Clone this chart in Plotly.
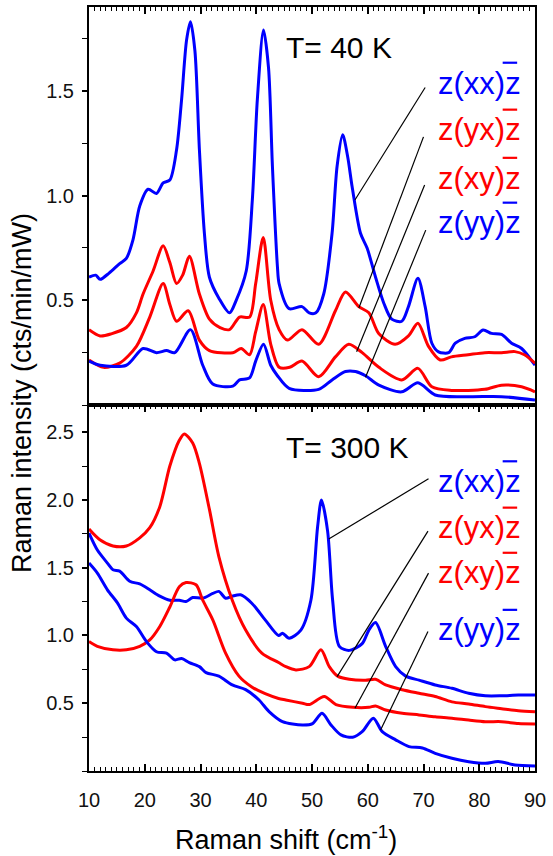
import plotly.graph_objects as go

# ---------------- data: T = 40 K (top panel) ----------------
x40_xx = [10, 11.2, 12, 13.6, 15.5, 16.7, 17.9, 19.1, 20.6, 22.1, 23.3, 24.5, 25.7, 26.6, 27.5, 28.2,
          29.0, 29.8, 30.7, 31.6, 33.3, 35.2, 36.4, 38.2, 39.3, 40.2, 41.3, 42.2, 42.9, 43.8, 44.1,
          45.9, 48.2, 49.5, 50.7, 52.1, 53.6, 54.5, 55.5, 56.4, 57.2, 58.7, 59.9, 61.4, 62.9, 64.3,
          66.1, 67.3, 69.0, 70.3, 71.5, 72.7, 74.5, 75.7, 77.4, 79.2, 80.7, 82.2, 84.0, 85.8, 87.6, 90]
y40_xx = [0.61, 0.62, 0.60, 0.63, 0.675, 0.70, 0.79, 0.95, 1.03, 1.01, 1.06, 1.074, 1.217, 1.456, 1.742, 1.83,
          1.69, 1.22, 0.82, 0.61, 0.51, 0.44, 0.50, 0.64, 0.98, 1.46, 1.79, 1.61, 1.14, 0.66, 0.58,
          0.46, 0.47, 0.44, 0.44, 0.53, 0.82, 1.14, 1.29, 1.185, 1.042, 0.82, 0.748, 0.61, 0.485, 0.41,
          0.40, 0.47, 0.605, 0.47, 0.295, 0.254, 0.25, 0.295, 0.318, 0.326, 0.358, 0.342, 0.337, 0.295, 0.27, 0.19]

x40_yx = [10, 12, 14, 16.7, 18.5, 19.7, 21.5, 23.3, 24.5, 25.7, 26.8, 28.0, 29.8, 31.6, 33.5, 35.2,
          37.0, 38.8, 39.9, 41.25, 42.6, 44.1, 45.6, 48.2, 51.2, 54.2, 56.0, 58.4, 60.2, 62.0,
          64.9, 67.3, 69.0, 70.9, 73.0, 75.0, 78.0, 81.0, 84.0, 86.4, 88.1, 90]
y40_yx = [0.36, 0.33, 0.34, 0.37, 0.44, 0.53, 0.64, 0.76, 0.68, 0.58, 0.62, 0.71, 0.53, 0.41, 0.37, 0.36,
          0.42, 0.42, 0.58, 0.80, 0.50, 0.36, 0.31, 0.36, 0.29, 0.45, 0.54, 0.47, 0.44, 0.34,
          0.29, 0.33, 0.39, 0.28, 0.215, 0.23, 0.24, 0.25, 0.25, 0.255, 0.24, 0.20]

x40_xy = [10, 12.6, 15.5, 18.5, 20.9, 23.3, 24.5, 25.7, 27.8, 29.8, 31.6, 35.8, 37.3, 38.8, 39.9,
          41.25, 42.6, 44.1, 46.0, 48.2, 51.2, 54.2, 56.6, 59.0, 62.0, 66.1, 69.0, 71.5, 75.0,
          81.0, 84.0, 87.6, 90]
y40_xy = [0.215, 0.18, 0.20, 0.28, 0.42, 0.58, 0.48, 0.40, 0.45, 0.31, 0.26, 0.25, 0.27, 0.24, 0.35,
          0.48, 0.29, 0.18, 0.18, 0.21, 0.135, 0.23, 0.29, 0.25, 0.18, 0.12, 0.175, 0.087, 0.07,
          0.075, 0.095, 0.087, 0.063]

x40_yy = [10, 12, 16.7, 19.7, 22.1, 23.9, 25.4, 28.2, 30.4, 32.2, 35.8, 37.0, 38.8, 39.9, 41.3,
          42.6, 43.8, 45.9, 51.2, 53.6, 56.0, 57.8, 59.6, 62.0, 66.1, 69.0, 72.1, 78.1, 84.0, 90]
y40_yy = [0.21, 0.19, 0.19, 0.27, 0.25, 0.26, 0.25, 0.36, 0.19, 0.10, 0.09, 0.12, 0.13, 0.21, 0.29,
          0.19, 0.14, 0.08, 0.075, 0.12, 0.16, 0.16, 0.14, 0.095, 0.063, 0.106, 0.048, 0.04, 0.04, 0.024]

# ---------------- data: T = 300 K (bottom panel) ----------------
x300_xx = [10, 11.5, 13.3, 14.3, 15.5, 17.3, 19.1, 20.9, 22.7, 24.5, 26.2, 27.4, 28.6, 30.4, 32.2,
           33.3, 34.5, 35.7, 37.2, 39.2, 41.6, 44.0, 44.7, 45.9, 48.0, 49.8, 51.0, 51.7, 52.8, 53.7,
           54.9, 56.7, 59.0, 60.2, 61.4, 63.2, 65.0, 66.8, 69.2, 72.1, 75.1, 78.1, 81.1, 84.0, 87.0, 90]
y300_xx = [1.755, 1.63, 1.534, 1.485, 1.475, 1.40, 1.38, 1.337, 1.29, 1.26, 1.26, 1.25, 1.28, 1.275, 1.31,
           1.325, 1.275, 1.29, 1.30, 1.238, 1.115, 1.0, 1.017, 0.98, 1.04, 1.26, 1.80, 2.0, 1.77, 1.26,
           0.92, 0.89, 0.94, 1.04, 1.095, 0.92, 0.77, 0.70, 0.67, 0.635, 0.61, 0.574, 0.555, 0.555, 0.56, 0.56]

x300_yx = [10, 11.95, 14.3, 16.7, 19.1, 20.9, 22.7, 24.5, 26.2, 27.1, 28.6, 29.8, 31.6, 33.3, 35.7,
           38.1, 41.0, 44.0, 45.3, 47.1, 49.5, 51.6, 53.1, 54.6, 56.7, 59.6, 61.4, 63.2, 66.2, 69.2,
           72.1, 75.1, 78.1, 81.1, 84.0, 87.0, 90]
y300_yx = [1.785, 1.706, 1.66, 1.66, 1.72, 1.795, 1.95, 2.25, 2.44, 2.487, 2.42, 2.27, 1.93, 1.58, 1.26,
           1.04, 0.87, 0.80, 0.77, 0.746, 0.77, 0.894, 0.77, 0.70, 0.677, 0.67, 0.677, 0.635, 0.60, 0.574,
           0.55, 0.51, 0.495, 0.475, 0.46, 0.445, 0.438]

x300_xy = [10, 11.5, 14.3, 16.7, 19.1, 20.9, 22.7, 24.5, 26.2, 27.4, 29.2, 30.4, 32.2, 34.5, 36.9,
           39.2, 41.6, 44.0, 45.3, 48.3, 49.5, 52.2, 54.3, 57.3, 60.2, 61.4, 63.2, 66.2, 69.2, 72.1,
           75.1, 78.1, 81.1, 84.0, 87.0, 90]
y300_xy = [0.955, 0.92, 0.894, 0.894, 0.92, 0.967, 1.066, 1.21, 1.36, 1.39, 1.374, 1.26, 1.115, 0.87, 0.70,
           0.62, 0.57, 0.535, 0.524, 0.50, 0.49, 0.55, 0.49, 0.47, 0.47, 0.48, 0.45, 0.426, 0.414, 0.40,
           0.39, 0.376, 0.364, 0.364, 0.35, 0.347]

x300_yy = [10, 11.5, 13.3, 15.1, 16.7, 18.5, 20.3, 22.1, 23.9, 25.4, 26.6, 28.0, 29.8, 31.0, 33.3,
           35.7, 38.1, 40.5, 42.3, 44.7, 48.3, 50.1, 51.8, 53.4, 55.2, 57.3, 59.0, 61.0, 62.6, 65.0,
           67.4, 69.8, 72.1, 75.1, 78.1, 81.1, 83.4, 86.4, 90]
y300_yy = [1.534, 1.46, 1.337, 1.24, 1.128, 1.066, 0.955, 0.88, 0.87, 0.82, 0.83, 0.80, 0.77, 0.726, 0.70,
           0.635, 0.60, 0.524, 0.438, 0.364, 0.34, 0.35, 0.426, 0.34, 0.266, 0.249, 0.29, 0.39, 0.29, 0.23,
           0.18, 0.17, 0.13, 0.094, 0.069, 0.057, 0.07, 0.045, 0.037]

labels = ["z(xx)z", "z(yx)z", "z(xy)z", "z(yy)z"]
temps = ["T= 40 K", "T= 300 K"]
y_ticks_top = [0.5, 1.0, 1.5]
y_ticks_bot = [0.5, 1.0, 1.5, 2.0, 2.5]
x_ticks = [10, 20, 30, 40, 50, 60, 70, 80, 90]

BLUE = "#0000ff"
RED = "#ff0000"
FONT = "Liberation Sans, Arial, sans-serif"
colors = [BLUE, RED, RED, BLUE]

fig = go.Figure()

top_series = [(x40_xx, y40_xx), (x40_yx, y40_yx), (x40_xy, y40_xy), (x40_yy, y40_yy)]
bot_series = [(x300_xx, y300_xx), (x300_yx, y300_yx), (x300_xy, y300_xy), (x300_yy, y300_yy)]

for (xs, ys), c in zip(top_series, colors):
    fig.add_trace(go.Scatter(x=xs, y=ys, mode="lines", xaxis="x2", yaxis="y2",
                             line=dict(color=c, width=3, shape="spline", smoothing=0.8),
                             showlegend=False, hoverinfo="skip"))
for (xs, ys), c in zip(bot_series, colors):
    fig.add_trace(go.Scatter(x=xs, y=ys, mode="lines", xaxis="x", yaxis="y",
                             line=dict(color=c, width=3, shape="spline", smoothing=0.8),
                             showlegend=False, hoverinfo="skip"))

split = 0.479
axis_common = dict(showline=True, linecolor="black", linewidth=2, showgrid=False, zeroline=False,
                   tickcolor="black", tickfont=dict(family=FONT, size=20, color="#111"))

fig.update_layout(
    width=553, height=856,
    margin=dict(l=89, r=16, t=7, b=85),
    paper_bgcolor="white", plot_bgcolor="white",
    font=dict(family=FONT, color="black"),
    xaxis=dict(**axis_common, domain=[0, 1], range=[10, 90], anchor="y",
               tickvals=x_ticks, ticks="inside", ticklen=7, tickwidth=1.5, mirror="ticks",
               ticklabelstandoff=10,
               minor=dict(dtick=1, tick0=10, ticks="inside", ticklen=4, tickwidth=1, tickcolor="black")),
    yaxis=dict(**axis_common, domain=[0, split], range=[0, 2.7], anchor="x",
               tickvals=y_ticks_bot, ticktext=["%.1f" % v for v in y_ticks_bot],
               ticks="outside", ticklen=5, tickwidth=1.5, mirror=True, ticklabelstandoff=4,
               minor=dict(dtick=0.25, tick0=0, ticks="outside", ticklen=5, tickwidth=1, tickcolor="black")),
    xaxis2=dict(**axis_common, domain=[0, 1], range=[10, 90], anchor="y2", matches="x",
                side="top", showticklabels=False, tickvals=x_ticks,
                ticks="inside", ticklen=7, tickwidth=1.5, mirror=True,
                minor=dict(dtick=1, tick0=10, ticks="inside", ticklen=4, tickwidth=1, tickcolor="black")),
    yaxis2=dict(**axis_common, domain=[split, 1], range=[0, 1.9], anchor="x2",
                tickvals=y_ticks_top, ticktext=["%.1f" % v for v in y_ticks_top],
                ticks="outside", ticklen=5, tickwidth=1.5, mirror=True, ticklabelstandoff=4,
                minor=dict(dtick=0.25, tick0=0, ticks="outside", ticklen=5, tickwidth=1, tickcolor="black")),
)

annotations = []
# temperature labels
annotations.append(dict(x=45.0, y=1.709, xref="x2", yref="y2", text=temps[0], showarrow=False,
                        xanchor="left", yanchor="middle", font=dict(family=FONT, size=30, color="black")))
annotations.append(dict(x=45.0, y=2.385, xref="x", yref="y", text=temps[1], showarrow=False,
                        xanchor="left", yanchor="middle", font=dict(family=FONT, size=30, color="black")))

# polarisation labels (with overbar on the final z drawn as a short line)
lab_x = 72.2
lab_y_top = [1.537, 1.313, 1.083, 0.869]
lab_y_bot = [2.137, 1.795, 1.462, 1.041]
for lab, c, yt, yb in zip(labels, colors, lab_y_top, lab_y_bot):
    annotations.append(dict(x=lab_x, y=yt, xref="x2", yref="y2", text=lab, showarrow=False,
                            xanchor="left", yanchor="middle", font=dict(family=FONT, size=31, color=c)))
    annotations.append(dict(x=lab_x, y=yb, xref="x", yref="y", text=lab, showarrow=False,
                            xanchor="left", yanchor="middle", font=dict(family=FONT, size=31, color=c)))
    fig.add_shape(type="line", x0=84.2, x1=86.8, y0=yt + 0.097, y1=yt + 0.097, xref="x2", yref="y2",
                  line=dict(color=c, width=2.2))
    fig.add_shape(type="line", x0=84.2, x1=86.8, y0=yb + 0.148, y1=yb + 0.148, xref="x", yref="y",
                  line=dict(color=c, width=2.2))

# axis titles
annotations.append(dict(x=-0.1496, y=0.495, xref="paper", yref="paper", text="Raman intensity (cts/min/mW)",
                        textangle=-90, showarrow=False, xanchor="center", yanchor="middle",
                        font=dict(family=FONT, size=27, color="black")))
annotations.append(dict(x=0.442, y=-0.0877, xref="paper", yref="paper", text="Raman shift (cm<sup>-1</sup>)",
                        showarrow=False, xanchor="center", yanchor="middle",
                        font=dict(family=FONT, size=27, color="black")))
fig.update_layout(annotations=annotations)

# leader lines (label -> curve)
lead_top = [((70.3, 1.516), (57.7, 0.979)), ((70.0, 1.28), (58.4, 0.463)),
            ((70.2, 1.05), (58.0, 0.254)), ((70.4, 0.835), (59.6, 0.133))]
lead_bot = [((70.9, 2.156), (53.0, 1.711)), ((70.8, 1.77), (54.5, 0.696)),
            ((70.9, 1.46), (57.7, 0.463)), ((70.8, 1.03), (62.3, 0.303))]
for (a, b) in lead_top:
    fig.add_shape(type="line", x0=a[0], y0=a[1], x1=b[0], y1=b[1], xref="x2", yref="y2",
                  line=dict(color="black", width=1.2))
for (a, b) in lead_bot:
    fig.add_shape(type="line", x0=a[0], y0=a[1], x1=b[0], y1=b[1], xref="x", yref="y",
                  line=dict(color="black", width=1.2))

fig.write_html("out.html", config={"displayModeBar": False},
               post_script="document.body.style.margin='0';document.body.style.padding='0';")
